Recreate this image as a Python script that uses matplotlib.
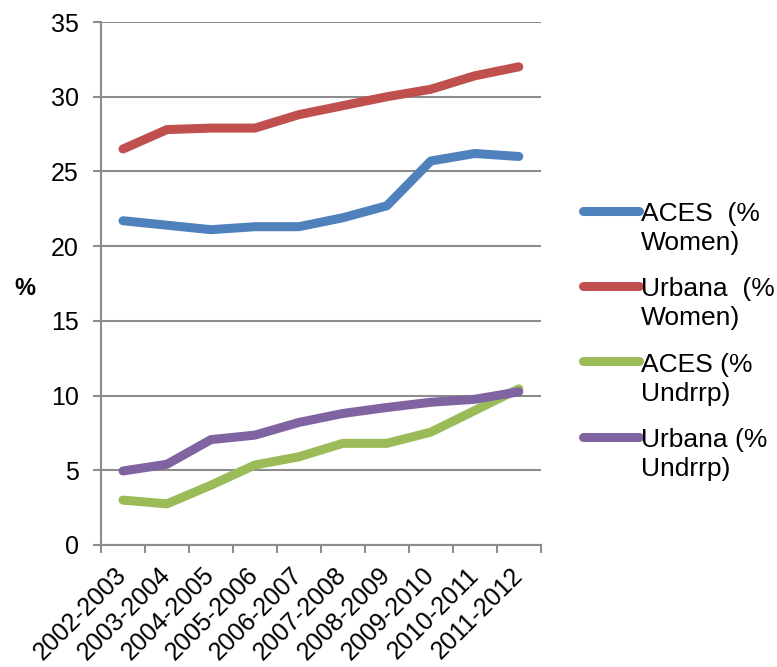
import matplotlib
matplotlib.use("Agg")
import matplotlib.pyplot as plt
from matplotlib.legend_handler import HandlerLine2D

plt.rcParams['font.family'] = ['Liberation Sans', 'DejaVu Sans']

years = ['2002-2003', '2003-2004', '2004-2005', '2005-2006', '2006-2007',
         '2007-2008', '2008-2009', '2009-2010', '2010-2011', '2011-2012']
aces_women = [21.7, 21.4, 21.1, 21.3, 21.3, 21.9, 22.7, 25.7, 26.2, 26.0]
urbana_women = [26.5, 27.8, 27.9, 27.9, 28.8, 29.4, 30.0, 30.5, 31.4, 32.0]
aces_undrrp = [3.0, 2.75, 4.0, 5.35, 5.9, 6.8, 6.8, 7.55, 9.0, 10.45]
urbana_undrrp = [4.95, 5.4, 7.05, 7.35, 8.2, 8.8, 9.2, 9.55, 9.75, 10.25]

series = [
    ('ACES  (%\nWomen)', aces_women, '#4F81BD'),
    ('Urbana  (%\nWomen)', urbana_women, '#C0504D'),
    ('ACES (%\nUndrrp)', aces_undrrp, '#9BBB59'),
    ('Urbana (%\nUndrrp)', urbana_undrrp, '#8064A2'),
]


class TopLine(HandlerLine2D):
    # put the legend line next to the first text line, not the middle
    def create_artists(self, legend, orig_handle, xdescent, ydescent,
                       width, height, fontsize, trans):
        arts = super().create_artists(legend, orig_handle, xdescent, ydescent,
                                      width, height, fontsize, trans)
        for a in arts:
            y = a.get_ydata()
            a.set_ydata([v + fontsize * 0.68 for v in y])
        return arts


fig = plt.figure(figsize=(7.77, 6.67), dpi=100)
ax = fig.add_axes([0.13, 0.183, 0.566, 0.784])

x = list(range(len(years)))
lines = []
for label, vals, col in series:
    ln, = ax.plot(x, vals, color=col, lw=6.5, solid_capstyle='round',
                  solid_joinstyle='round', label=label)
    lines.append(ln)

ax.set_xlim(-0.5, len(years) - 0.5)
ax.set_ylim(0, 35)
ax.set_yticks(range(0, 36, 5))
ax.set_xticks([i - 0.5 for i in range(len(years) + 1)], minor=False)
ax.set_xticklabels([])
ax.set_xticks(x, minor=True)
ax.set_xticklabels(years, minor=True, rotation=45, ha='right', va='center',
                   rotation_mode='anchor', fontsize=18)
ax.tick_params(axis='x', which='minor', length=0, pad=19)
ax.tick_params(axis='x', which='major', length=6, width=1.5, color='#8c8c8c')
ax.tick_params(axis='y', length=6, width=1.5, color='#8c8c8c', labelsize=18, pad=10)

ax.grid(axis='y', color='#8c8c8c', lw=1.5)
ax.set_axisbelow(True)
for s in ['top', 'right']:
    ax.spines[s].set_visible(False)
for s in ['left', 'bottom']:
    ax.spines[s].set_color('#8c8c8c')
    ax.spines[s].set_linewidth(1.5)

ax.set_ylabel('%', rotation=0, fontsize=17, fontweight='bold', va='center', ha='center')
ax.yaxis.set_label_coords(-0.173, 0.49)

leg = fig.legend(handles=lines, loc='center left', bbox_to_anchor=(0.72, 0.488),
                 frameon=False, fontsize=19, handlelength=2.1, handletextpad=0.1,
                 labelspacing=0.84, handler_map={l: TopLine() for l in lines})
for t in leg.get_texts():
    t.set_linespacing(1.27)

fig.savefig('out.png', dpi=100)
